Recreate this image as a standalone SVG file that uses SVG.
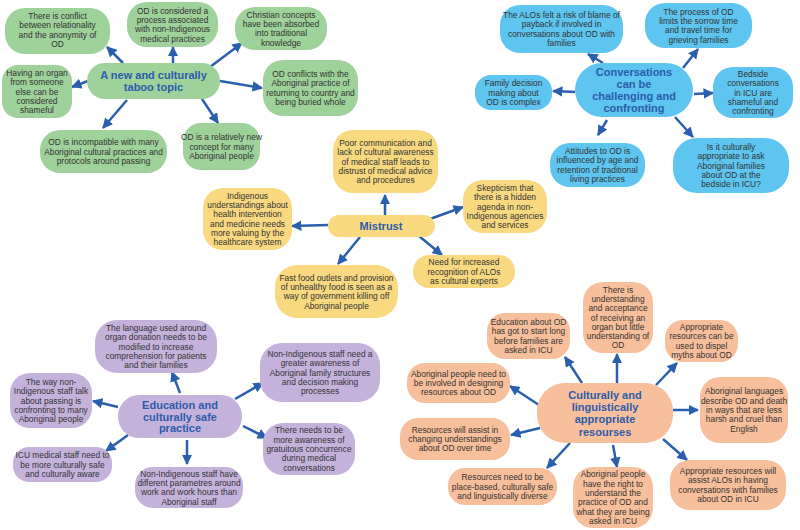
<svg xmlns="http://www.w3.org/2000/svg" width="800" height="530" viewBox="0 0 800 530">
<defs>
<marker id="ah" viewBox="0 0 10 10" refX="9" refY="5" markerWidth="10.5" markerHeight="10.5" markerUnits="userSpaceOnUse" orient="auto">
<path d="M0,0 L10,5 L0,10 z" fill="#2a5fae"/>
</marker>
<style>
.g{fill:#9fd19b}.b{fill:#5ec4f0}.y{fill:#f8d980}.p{fill:#c5b2db}.o{fill:#f8bf9c}
.t{font-family:"Liberation Sans",Arial,sans-serif;font-size:8.4px;fill:#333333;text-anchor:middle}
.h{font-family:"Liberation Sans",Arial,sans-serif;font-size:11px;font-weight:bold;fill:#2b5cab;text-anchor:middle}
.c line{stroke:#2a5fae;stroke-width:2.5;marker-end:url(#ah)}
</style>
</defs>
<rect width="800" height="530" fill="#ffffff"/>

<g class="c" id="connectors">
<line x1="123" y1="63" x2="107" y2="47"/>
<line x1="173" y1="63" x2="173" y2="47"/>
<line x1="210" y1="67" x2="242" y2="43"/>
<line x1="88" y1="81" x2="72" y2="87"/>
<line x1="220" y1="81" x2="262" y2="88"/>
<line x1="127" y1="100" x2="103" y2="128"/>
<line x1="202" y1="99" x2="218" y2="123"/>

<line x1="603" y1="63" x2="588" y2="54"/>
<line x1="683" y1="68" x2="698" y2="49"/>
<line x1="575" y1="92" x2="553" y2="91"/>
<line x1="694" y1="94" x2="713" y2="93"/>
<line x1="607" y1="120" x2="598" y2="135"/>
<line x1="675" y1="117" x2="693" y2="137"/>

<line x1="385" y1="215" x2="385" y2="195"/>
<line x1="328" y1="225" x2="292" y2="226"/>
<line x1="430" y1="219" x2="463" y2="207"/>
<line x1="360" y1="237" x2="338" y2="264"/>
<line x1="419" y1="236" x2="442" y2="255"/>

<line x1="180" y1="393" x2="172" y2="372"/>
<line x1="118" y1="407" x2="93" y2="401"/>
<line x1="235" y1="399" x2="263" y2="383"/>
<line x1="243" y1="426" x2="267" y2="438"/>
<line x1="128" y1="435" x2="106" y2="451"/>
<line x1="187" y1="440" x2="187" y2="464"/>

<line x1="582" y1="383" x2="565" y2="357"/>
<line x1="617" y1="383" x2="617" y2="354"/>
<line x1="656" y1="385" x2="677" y2="363"/>
<line x1="539" y1="405" x2="510" y2="386"/>
<line x1="673" y1="410" x2="698" y2="410"/>
<line x1="540" y1="428" x2="511" y2="435"/>
<line x1="570" y1="443" x2="547" y2="468"/>
<line x1="613" y1="445" x2="617" y2="467"/>
<line x1="663" y1="439" x2="687" y2="460"/>
</g>

<!-- Green cluster -->
<g id="g0"><rect class="g" x="87" y="63" width="133" height="36" rx="18"/>
<text class="h" x="153.5" y="79"><tspan x="153.5">A new and culturally</tspan><tspan x="153.5" dy="12.3">taboo topic</tspan></text></g>
<g id="g1"><rect class="g" x="5" y="8" width="105" height="46" rx="20"/>
<text class="t" x="57.5" y="19"><tspan x="57.5">There is conflict</tspan><tspan x="57.5" dy="9.3">between relationality</tspan><tspan x="57.5" dy="9.3">and the anonymity of</tspan><tspan x="57.5" dy="9.3">OD</tspan></text></g>
<g id="g2"><rect class="g" x="127" y="2" width="91" height="45" rx="20"/>
<text class="t" x="172.5" y="13.6"><tspan x="172.5">OD is considered a</tspan><tspan x="172.5" dy="9.3">process associated</tspan><tspan x="172.5" dy="9.3">with non-Indigenous</tspan><tspan x="172.5" dy="9.3">medical practices</tspan></text></g>
<g id="g3"><rect class="g" x="235" y="7" width="92" height="43" rx="20"/>
<text class="t" x="281" y="17.6"><tspan x="281">Christian concepts</tspan><tspan x="281" dy="9.3">have been absorbed</tspan><tspan x="281" dy="9.3">into traditional</tspan><tspan x="281" dy="9.3">knowledge</tspan></text></g>
<g id="g4"><rect class="g" x="2" y="65" width="70" height="53" rx="16"/>
<text class="t" x="37" y="75.9"><tspan x="37">Having an organ</tspan><tspan x="37" dy="9.3">from someone</tspan><tspan x="37" dy="9.3">else can be</tspan><tspan x="37" dy="9.3">considered</tspan><tspan x="37" dy="9.3">shameful</tspan></text></g>
<g id="g5"><rect class="g" x="263" y="60" width="95" height="56" rx="20"/>
<text class="t" x="310.5" y="77.1"><tspan x="310.5">OD conflicts with the</tspan><tspan x="310.5" dy="9.3">Aboriginal practice of</tspan><tspan x="310.5" dy="9.3">returning to country and</tspan><tspan x="310.5" dy="9.3">being buried whole</tspan></text></g>
<g id="g6"><rect class="g" x="40" y="130" width="127" height="43" rx="20"/>
<text class="t" x="103.5" y="145.2"><tspan x="103.5">OD is incompatible with many</tspan><tspan x="103.5" dy="9.3">Aboriginal cultural practices and</tspan><tspan x="103.5" dy="9.3">protocols around passing</tspan></text></g>
<g id="g7"><rect class="g" x="183" y="123" width="77" height="47" rx="18"/>
<text class="t" x="221.5" y="140.2"><tspan x="221.5">OD is a relatively new</tspan><tspan x="221.5" dy="9.3">concept for many</tspan><tspan x="221.5" dy="9.3">Aboriginal people</tspan></text></g>

<!-- Blue cluster -->
<g id="b0"><rect class="b" x="575" y="63" width="118" height="54" rx="27"/>
<text class="h" x="634" y="76"><tspan x="634">Conversations</tspan><tspan x="634" dy="12">can be</tspan><tspan x="634" dy="12">challenging and</tspan><tspan x="634" dy="12">confronting</tspan></text></g>
<g id="b1"><rect class="b" x="500" y="5" width="123" height="48" rx="20"/>
<text class="t" x="561.5" y="18.1"><tspan x="561.5">The ALOs felt a risk of blame of</tspan><tspan x="561.5" dy="9.3">payback if involved in</tspan><tspan x="561.5" dy="9.3">conversations about OD with</tspan><tspan x="561.5" dy="9.3">families</tspan></text></g>
<g id="b2"><rect class="b" x="645" y="3" width="107" height="45" rx="20"/>
<text class="t" x="698.5" y="14.6"><tspan x="698.5">The process of OD</tspan><tspan x="698.5" dy="9.3">limits the sorrow time</tspan><tspan x="698.5" dy="9.3">and travel time for</tspan><tspan x="698.5" dy="9.3">grieving families</tspan></text></g>
<g id="b3"><rect class="b" x="475" y="75" width="77" height="35" rx="16"/>
<text class="t" x="513.5" y="86.2"><tspan x="513.5">Family decision</tspan><tspan x="513.5" dy="9.3">making about</tspan><tspan x="513.5" dy="9.3">OD is complex</tspan></text></g>
<g id="b4"><rect class="b" x="713" y="67" width="80" height="51" rx="20"/>
<text class="t" x="753" y="76.9"><tspan x="753">Bedside</tspan><tspan x="753" dy="9.3">conversations</tspan><tspan x="753" dy="9.3">in ICU are</tspan><tspan x="753" dy="9.3">shameful and</tspan><tspan x="753" dy="9.3">confronting</tspan></text></g>
<g id="b5"><rect class="b" x="550" y="143" width="95" height="44" rx="20"/>
<text class="t" x="597.5" y="154.1"><tspan x="597.5">Attitudes to OD is</tspan><tspan x="597.5" dy="9.3">influenced by age and</tspan><tspan x="597.5" dy="9.3">retention of traditional</tspan><tspan x="597.5" dy="9.3">living practices</tspan></text></g>
<g id="b6"><rect class="b" x="673" y="138" width="116" height="55" rx="24"/>
<text class="t" x="731" y="149.9"><tspan x="731">Is it culturally</tspan><tspan x="731" dy="9.3">appropriate to ask</tspan><tspan x="731" dy="9.3">Aboriginal families</tspan><tspan x="731" dy="9.3">about OD at the</tspan><tspan x="731" dy="9.3">bedside in ICU?</tspan></text></g>

<!-- Yellow cluster -->
<g id="y0"><rect class="y" x="328" y="215" width="107" height="22" rx="11"/>
<text class="h" x="381" y="230">Mistrust</text></g>
<g id="y1"><rect class="y" x="333" y="130" width="105" height="63" rx="20"/>
<text class="t" x="385.5" y="145.9"><tspan x="385.5">Poor communication and</tspan><tspan x="385.5" dy="9.3">lack of cultural awareness</tspan><tspan x="385.5" dy="9.3">of medical staff leads to</tspan><tspan x="385.5" dy="9.3">distrust of medical advice</tspan><tspan x="385.5" dy="9.3">and procedures</tspan></text></g>
<g id="y2"><rect class="y" x="203" y="188" width="89" height="62" rx="20"/>
<text class="t" x="247.5" y="198.8"><tspan x="247.5">Indigenous</tspan><tspan x="247.5" dy="9.3">understandings about</tspan><tspan x="247.5" dy="9.3">health intervention</tspan><tspan x="247.5" dy="9.3">and medicine needs</tspan><tspan x="247.5" dy="9.3">more valuing by the</tspan><tspan x="247.5" dy="9.3">healthcare system</tspan></text></g>
<g id="y3"><rect class="y" x="463" y="180" width="84" height="53" rx="20"/>
<text class="t" x="505" y="190.9"><tspan x="505">Skepticism that</tspan><tspan x="505" dy="9.3">there is a hidden</tspan><tspan x="505" dy="9.3">agenda in non-</tspan><tspan x="505" dy="9.3">Indigenous agencies</tspan><tspan x="505" dy="9.3">and services</tspan></text></g>
<g id="y4"><rect class="y" x="413" y="255" width="102" height="33" rx="16"/>
<text class="t" x="464" y="265.2"><tspan x="464">Need for increased</tspan><tspan x="464" dy="9.3">recognition of ALOs</tspan><tspan x="464" dy="9.3">as cultural experts</tspan></text></g>
<g id="y5"><rect class="y" x="275" y="265" width="123" height="53" rx="22"/>
<text class="t" x="336.5" y="280.6"><tspan x="336.5">Fast food outlets and provision</tspan><tspan x="336.5" dy="9.3">of unhealthy food is seen as a</tspan><tspan x="336.5" dy="9.3">way of government killing off</tspan><tspan x="336.5" dy="9.3">Aboriginal people</tspan></text></g>

<!-- Purple cluster -->
<g id="p0"><rect class="p" x="118" y="395" width="124" height="43" rx="21"/>
<text class="h" x="180" y="409"><tspan x="180">Education and</tspan><tspan x="180" dy="11.5">culturally safe</tspan><tspan x="180" dy="11.5">practice</tspan></text></g>
<g id="p1"><rect class="p" x="95" y="320" width="122" height="53" rx="22"/>
<text class="t" x="156" y="330.9"><tspan x="156">The language used around</tspan><tspan x="156" dy="9.3">organ donation needs to be</tspan><tspan x="156" dy="9.3">modified to increase</tspan><tspan x="156" dy="9.3">comprehension for patients</tspan><tspan x="156" dy="9.3">and their families</tspan></text></g>
<g id="p2"><rect class="p" x="10" y="373" width="82" height="55" rx="20"/>
<text class="t" x="51" y="384.9"><tspan x="51">The way non-</tspan><tspan x="51" dy="9.3">Indigenous staff talk</tspan><tspan x="51" dy="9.3">about passing is</tspan><tspan x="51" dy="9.3">confronting to many</tspan><tspan x="51" dy="9.3">Aboriginal people</tspan></text></g>
<g id="p3"><rect class="p" x="260" y="343" width="120" height="59" rx="22"/>
<text class="t" x="320" y="356.9"><tspan x="320">Non-Indigenous staff need a</tspan><tspan x="320" dy="9.3">greater awareness of</tspan><tspan x="320" dy="9.3">Aboriginal family structures</tspan><tspan x="320" dy="9.3">and decision making</tspan><tspan x="320" dy="9.3">processes</tspan></text></g>
<g id="p4"><rect class="p" x="263" y="423" width="92" height="52" rx="20"/>
<text class="t" x="309" y="433.4"><tspan x="309">There needs to be</tspan><tspan x="309" dy="9.3">more awareness of</tspan><tspan x="309" dy="9.3">gratuitous concurrence</tspan><tspan x="309" dy="9.3">during medical</tspan><tspan x="309" dy="9.3">conversations</tspan></text></g>
<g id="p5"><rect class="p" x="13" y="447" width="99" height="35" rx="16"/>
<text class="t" x="62.5" y="458.2"><tspan x="62.5">ICU medical staff need to</tspan><tspan x="62.5" dy="9.3">be more culturally safe</tspan><tspan x="62.5" dy="9.3">and culturally aware</tspan></text></g>
<g id="p6"><rect class="p" x="135" y="467" width="108" height="41" rx="18"/>
<text class="t" x="189" y="476.6"><tspan x="189">Non-Indigenous staff have</tspan><tspan x="189" dy="9.3">different parametres around</tspan><tspan x="189" dy="9.3">work and work hours than</tspan><tspan x="189" dy="9.3">Aboriginal staff</tspan></text></g>

<!-- Orange cluster -->
<g id="o0"><rect class="o" x="537" y="383" width="136" height="60" rx="28"/>
<text class="h" x="605" y="399"><tspan x="605">Culturally and</tspan><tspan x="605" dy="12.2">linguistically</tspan><tspan x="605" dy="12.2">appropriate</tspan><tspan x="605" dy="12.2">resourses</tspan></text></g>
<g id="o1"><rect class="o" x="583" y="282" width="70" height="71" rx="20"/>
<text class="t" x="618" y="292.6"><tspan x="618">There is</tspan><tspan x="618" dy="9.3">understanding</tspan><tspan x="618" dy="9.3">and acceptance</tspan><tspan x="618" dy="9.3">of receiving an</tspan><tspan x="618" dy="9.3">organ but little</tspan><tspan x="618" dy="9.3">understanding of</tspan><tspan x="618" dy="9.3">OD</tspan></text></g>
<g id="o2"><rect class="o" x="487" y="313" width="83" height="46" rx="18"/>
<text class="t" x="528.5" y="325.1"><tspan x="528.5">Education about OD</tspan><tspan x="528.5" dy="9.3">has got to start long</tspan><tspan x="528.5" dy="9.3">before families are</tspan><tspan x="528.5" dy="9.3">asked in ICU</tspan></text></g>
<g id="o3"><rect class="o" x="665" y="320" width="73" height="42" rx="18"/>
<text class="t" x="701.5" y="330.1"><tspan x="701.5">Appropriate</tspan><tspan x="701.5" dy="9.3">resources can be</tspan><tspan x="701.5" dy="9.3">used to dispel</tspan><tspan x="701.5" dy="9.3">myths about OD</tspan></text></g>
<g id="o4"><rect class="o" x="407" y="363" width="103" height="40" rx="18"/>
<text class="t" x="458.5" y="376.7"><tspan x="458.5">Aboriginal people need to</tspan><tspan x="458.5" dy="9.3">be involved in designing</tspan><tspan x="458.5" dy="9.3">resources about OD</tspan></text></g>
<g id="o5"><rect class="o" x="700" y="377" width="88" height="66" rx="20"/>
<text class="t" x="744" y="394.4"><tspan x="744">Aboriginal languages</tspan><tspan x="744" dy="9.3">describe OD and death</tspan><tspan x="744" dy="9.3">in ways that are less</tspan><tspan x="744" dy="9.3">harsh and cruel than</tspan><tspan x="744" dy="9.3">English</tspan></text></g>
<g id="o6"><rect class="o" x="400" y="418" width="110" height="42" rx="18"/>
<text class="t" x="455" y="432.7"><tspan x="455">Resources will assist in</tspan><tspan x="455" dy="9.3">changing understandings</tspan><tspan x="455" dy="9.3">about OD over time</tspan></text></g>
<g id="o7"><rect class="o" x="448" y="468" width="109" height="37" rx="17"/>
<text class="t" x="502.5" y="480.2"><tspan x="502.5">Resources need to be</tspan><tspan x="502.5" dy="9.3">place-based, culturally safe</tspan><tspan x="502.5" dy="9.3">and linguistically diverse</tspan></text></g>
<g id="o8"><rect class="o" x="573" y="467" width="80" height="61" rx="20"/>
<text class="t" x="613" y="477.3"><tspan x="613">Aboriginal people</tspan><tspan x="613" dy="9.3">have the right to</tspan><tspan x="613" dy="9.3">understand the</tspan><tspan x="613" dy="9.3">practice of OD and</tspan><tspan x="613" dy="9.3">what they are being</tspan><tspan x="613" dy="9.3">asked in ICU</tspan></text></g>
<g id="o9"><rect class="o" x="670" y="460" width="116" height="50" rx="20"/>
<text class="t" x="728" y="474.1"><tspan x="728">Appropriate resources will</tspan><tspan x="728" dy="9.3">assist ALOs in having</tspan><tspan x="728" dy="9.3">conversations with families</tspan><tspan x="728" dy="9.3">about OD in ICU</tspan></text></g>
</svg>
